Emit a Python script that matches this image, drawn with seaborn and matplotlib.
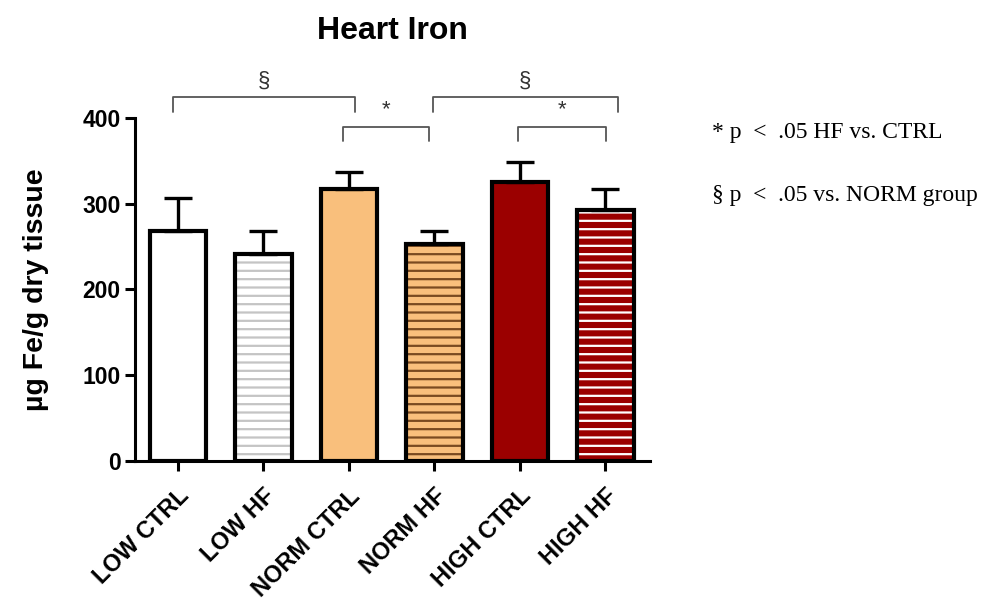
import matplotlib
matplotlib.use("Agg")
import matplotlib.pyplot as plt
import seaborn as sns
import pandas as pd
import numpy as np

groups = ["LOW CTRL", "LOW HF", "NORM CTRL", "NORM HF", "HIGH CTRL", "HIGH HF"]
means = [268, 241, 317, 253, 325, 293]
sems = [39, 27, 20, 15, 23, 24]
fill_colors = ["#FFFFFF", "#FFFFFF", "#F9BF7C", "#F9BF7C", "#9B0000", "#9B0000"]
hatch_colors = [None, "#C4C4C4", None, "#7A4A20", None, "#FFFFFF"]
y_ticks = [0, 100, 200, 300, 400]

# significance brackets: (x_start, x_end, y_line, y_drop, label, label_y)
brackets = [
    (-0.06, 2.07, 424, 407, "\u00a7", 443),
    (1.93, 2.94, 389, 373, "*", 409),
    (2.98, 5.15, 424, 407, "\u00a7", 443),
    (3.98, 5.01, 389, 373, "*", 409),
]
legend_lines = ["* p  <  .05 HF vs. CTRL", "\u00a7 p  <  .05 vs. NORM group"]

sns.set_style("ticks")
plt.rcParams["font.family"] = ["Liberation Sans", "DejaVu Sans"]
for k in ["text.color", "axes.labelcolor", "xtick.color", "ytick.color", "axes.edgecolor"]:
    plt.rcParams[k] = "black"
plt.rcParams["hatch.linewidth"] = 1.6

df = pd.DataFrame({"group": groups, "mean": means})

fig = plt.figure(figsize=(9.86, 6.01), dpi=100)
ax = fig.add_axes([0.137, 0.233, 0.522, 0.571])

sns.barplot(data=df, x="group", y="mean", hue="group", palette=fill_colors,
            legend=False, width=0.66, ax=ax, linewidth=0, saturation=1)
for p, hc in zip(ax.patches, hatch_colors):
    if hc is not None:
        p.set_hatch("--")
        p.set_edgecolor(hc)
        p.set_linewidth(0)

sns.barplot(data=df, x="group", y="mean", width=0.66, ax=ax, fill=False,
            edgecolor="black", linewidth=3.0)

xs = np.arange(len(groups))
ax.errorbar(xs, means, yerr=[np.zeros(len(sems)), sems], fmt="none",
            ecolor="black", elinewidth=2.4, capsize=10, capthick=2.4, zorder=1)

ax.set_ylim(0, 400)
ax.set_xlim(-0.5, 5.52)
ax.set_yticks(y_ticks)
ax.set_yticklabels([str(t) for t in y_ticks], fontsize=16.5, fontweight="bold")
ax.set_xticks(xs)
ax.set_xticklabels(groups, rotation=45, ha="right", rotation_mode="anchor",
                   fontsize=17, fontweight="bold")
ax.set_xlabel("")
ax.set_ylabel("\u00b5g Fe/g dry tissue", fontsize=20.5, fontweight="bold", labelpad=24)
ax.set_title("Heart Iron", fontsize=23, fontweight="bold", pad=57)
sns.despine(ax=ax)
for s in ["left", "bottom"]:
    ax.spines[s].set_linewidth(2.2)
ax.tick_params(axis="both", width=2.2, length=7, direction="out")
ax.tick_params(axis="x", pad=10)

for x0, x1, yl, yd, lab, ly in brackets:
    ax.plot([x0, x0, x1, x1], [yd, yl, yl, yd], color="#555555", lw=1.3,
            clip_on=False)
    ax.text((x0 + x1) / 2, ly, lab, ha="center", va="center", fontsize=16,
            color="#333333", clip_on=False)

fig.text(0.722, 0.770, legend_lines[0], fontsize=17, family="Liberation Serif",
         va="baseline", ha="left")
fig.text(0.722, 0.666, legend_lines[1], fontsize=17, family="Liberation Serif",
         va="baseline", ha="left")

fig.savefig("out.png", dpi=100, facecolor="white")
